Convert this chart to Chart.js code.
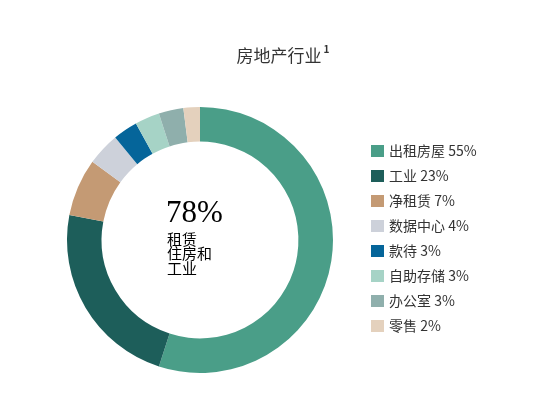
<!DOCTYPE html>
<html>
<head>
<meta charset="utf-8">
<script src="https://cdn.jsdelivr.net/npm/chart.js@4"></script>
<style>
  html, body { margin: 0; padding: 0; background: #fff; }
  #wrap { width: 554px; height: 395px; }
</style>
</head>
<body>
<div id="wrap"><canvas id="myDonut" width="554" height="395"></canvas></div>
<script>
var labels = ["出租房屋", "工业", "净租赁", "数据中心", "款待", "自助存储", "办公室", "零售"];
var shares = [55, 23, 7, 4, 3, 3, 3, 2];
var colors = ["#4a9e88", "#1d5e5a", "#c49a74", "#cdd1da", "#05659a", "#a6d3c6", "#8fafac", "#e4d1bd"];
var centerValue = "78%";
var centerLines = ["租赁", "住房和", "工业"];
var titleText = "房地产行业";

var cjk = '"Noto Sans CJK SC", "Noto Sans", sans-serif';

// title, legend and centre label drawn on the canvas
var extras = {
    id: 'extras',
    afterDraw: function (chart) {
        var ctx = chart.ctx;
        ctx.save();
        ctx.fillStyle = "#333";
        ctx.textBaseline = "middle";

        ctx.font = "17px " + cjk;
        ctx.textAlign = "left";
        var w = ctx.measureText(titleText).width;
        var tx = 279 - w / 2;
        ctx.fillText(titleText, tx, 56);
        ctx.font = "bold 10px " + cjk;
        ctx.fillText("1", tx + w + 2, 49);

        ctx.font = "14px " + cjk;
        for (var i = 0; i < labels.length; i++) {
            var y = 151 + i * 25;
            ctx.fillStyle = colors[i];
            ctx.fillRect(371, y - 6, 13, 12);
            ctx.fillStyle = "#333";
            ctx.fillText(labels[i] + " " + shares[i] + "%", 389, y);
        }

        ctx.fillStyle = "#000";
        ctx.font = '31px "Liberation Serif", "DejaVu Serif", serif';
        ctx.textBaseline = "alphabetic";
        ctx.fillText(centerValue, 166, 222);
        ctx.font = "15px " + cjk;
        ctx.textBaseline = "middle";
        for (var j = 0; j < centerLines.length; j++) {
            ctx.fillText(centerLines[j], 167, 239 + j * 14.5);
        }
        ctx.restore();
    }
};

var ctx = document.getElementById('myDonut').getContext('2d');
var myDonut = new Chart(ctx, {
    type: 'doughnut',
    data: {
        labels: labels,
        datasets: [{
            data: shares,
            backgroundColor: colors,
            borderWidth: 0
        }]
    },
    options: {
        responsive: false,
        animation: false,
        cutout: '74%',
        layout: { padding: { left: 67, right: 221, top: 107, bottom: 22 } },
        plugins: {
            legend: { display: false },
            tooltip: { enabled: false },
            title: { display: false }
        }
    },
    plugins: [extras]
});
</script>
</body>
</html>
